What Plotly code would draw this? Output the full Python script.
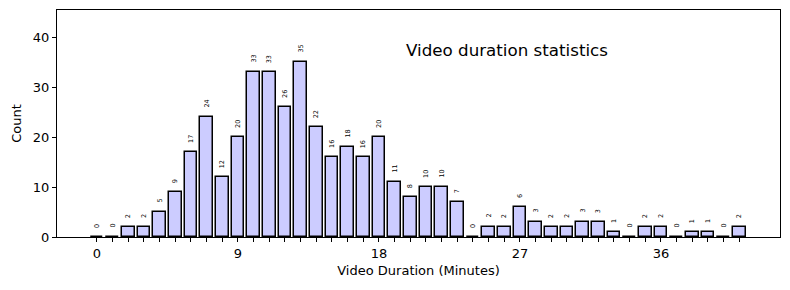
import plotly.graph_objects as go

minutes = list(range(42))
counts = [0, 0, 2, 2, 5, 9, 17, 24, 12, 20, 33, 33, 26, 35, 22, 16, 18, 16, 20, 11,
          8, 10, 10, 7, 0, 2, 2, 6, 3, 2, 2, 3, 3, 1, 0, 2, 2, 0, 1, 1, 0, 2]
major_ticks = [0, 9, 18, 27, 36]
title_text = "Video duration statistics"

fig = go.Figure()
fig.add_trace(go.Bar(
    x=minutes, y=counts, width=0.8,
    marker=dict(color="#ccccff", line=dict(color="black", width=1.5)),
    showlegend=False,
))

for m, c in zip(minutes, counts):
    fig.add_annotation(x=m, y=c, text=str(c), textangle=-90, showarrow=False,
                       xanchor="center", yanchor="bottom", yshift=7,
                       font=dict(size=6.5, color="black", family="DejaVu Sans"))

fig.add_annotation(x=19.6, y=37.4, text=title_text, showarrow=False,
                   xanchor="left", yanchor="middle",
                   font=dict(size=16.7, color="black"))

tickvals = minutes
ticktext = [str(m) if m in major_ticks else "" for m in minutes]

fig.update_layout(
    width=782, height=282,
    margin=dict(l=49, r=10, t=2, b=53),
    paper_bgcolor="white", plot_bgcolor="white",
    font=dict(family="DejaVu Sans", size=13, color="black"),
    bargap=0,
)
fig.update_xaxes(
    range=[-2.55, 43.6], tickvals=tickvals, ticktext=ticktext,
    ticks="outside", ticklen=4, tickwidth=1, tickcolor="black",
    showline=True, linecolor="black", linewidth=1, mirror=True,
    showgrid=False, zeroline=False, automargin=False,
    title=dict(text="Video Duration (Minutes)", font=dict(size=13), standoff=6),
    tickfont=dict(size=13),
)
fig.update_yaxes(
    range=[0, 45.4], tickvals=[0, 10, 20, 30, 40],
    ticks="outside", ticklen=4, tickwidth=1, tickcolor="black",
    showline=True, linecolor="black", linewidth=1, mirror=True,
    showgrid=False, zeroline=False, automargin=False,
    title=dict(text="Count", font=dict(size=13), standoff=8),
    tickfont=dict(size=13),
)

fig.write_html("out.html")
